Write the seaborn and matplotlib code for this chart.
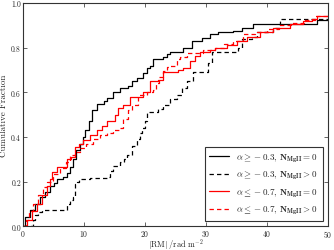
import matplotlib
matplotlib.use("Agg")
import matplotlib.pyplot as plt
import seaborn as sns

# step points (|RM|, cumulative fraction)
bs_x = [0, 0.3, 1.1, 2.0, 2.8, 3.6, 4.4, 5.0, 5.6, 6.6, 7.2, 7.7, 8.2, 8.7, 9.3, 9.8,
        10.2, 10.8, 11.3, 12.1, 13.2, 13.8, 14.8, 15.9, 17.2, 17.8, 18.7, 19.7, 20.3,
        20.8, 21.3, 23.0, 23.6, 24.1, 26.2, 27.7, 29.3, 30.7, 32.0, 34.4, 35.9, 37.7,
        48.2, 50]
bs_y = [0, 0.04, 0.075, 0.10, 0.13, 0.155, 0.18, 0.195, 0.21, 0.22, 0.24, 0.265, 0.30,
        0.34, 0.37, 0.40, 0.43, 0.47, 0.52, 0.55, 0.56, 0.575, 0.60, 0.62, 0.63, 0.65,
        0.665, 0.685, 0.71, 0.72, 0.75, 0.76, 0.77, 0.78, 0.80, 0.83, 0.845, 0.86, 0.87,
        0.875, 0.89, 0.905, 0.925, 0.925]

bd_x = [0, 1.1, 1.6, 2.0, 2.5, 3.1, 7.2, 7.7, 8.2, 8.5, 8.8, 9.2, 11.0, 13.8, 14.3,
        14.8, 15.9, 16.5, 17.0, 17.9, 18.7, 19.2, 19.5, 20.0, 20.3, 22.2, 23.0, 24.1,
        25.2, 26.1, 26.9, 27.9, 30.3, 31.0, 35.2, 35.9, 37.5, 38.4, 41.0, 42.1, 50]
bd_y = [0, 0, 0.03, 0.05, 0.065, 0.075, 0.10, 0.12, 0.13, 0.19, 0.20, 0.21, 0.215, 0.22,
        0.25, 0.27, 0.29, 0.30, 0.32, 0.36, 0.39, 0.42, 0.44, 0.47, 0.51, 0.525, 0.545,
        0.57, 0.59, 0.62, 0.65, 0.69, 0.73, 0.78, 0.80, 0.84, 0.85, 0.87, 0.89, 0.93, 0.93]

rs_x = [0, 0.7, 1.5, 2.3, 3.1, 3.9, 4.4, 4.8, 5.6, 7.2, 7.8, 8.5, 9.2, 9.8, 11.0, 12.1,
        13.0, 13.8, 15.1, 15.6, 16.4, 17.5, 19.7, 20.8, 22.1, 23.0, 25.4, 26.2, 27.4,
        28.2, 29.0, 30.7, 31.5, 33.4, 35.0, 36.7, 38.9, 41.0, 43.8, 45.9, 47.4, 48.2, 50]
rs_y = [0, 0.03, 0.07, 0.10, 0.14, 0.18, 0.21, 0.245, 0.265, 0.30, 0.31, 0.355, 0.37,
        0.385, 0.41, 0.43, 0.45, 0.47, 0.50, 0.53, 0.545, 0.58, 0.60, 0.65, 0.655, 0.69,
        0.70, 0.71, 0.74, 0.765, 0.78, 0.79, 0.80, 0.81, 0.83, 0.85, 0.87, 0.89, 0.905,
        0.92, 0.93, 0.94, 0.94]

rd_x = [0, 0.5, 1.0, 1.6, 2.5, 3.3, 3.9, 4.9, 6.0, 7.0, 7.7, 8.5, 9.3, 10.3, 11.5, 12.6,
        13.8, 14.8, 15.9, 16.4, 17.2, 17.9, 18.9, 20.3, 21.3, 21.8, 22.3, 23.0, 23.6,
        24.1, 25.2, 25.7, 26.9, 29.5, 31.5, 33.0, 34.5, 36.1, 38.0, 40.0, 42.0, 44.0,
        46.0, 47.8, 50]
rd_y = [0, 0.03, 0.07, 0.10, 0.14, 0.175, 0.20, 0.235, 0.26, 0.29, 0.32, 0.335, 0.35,
        0.37, 0.39, 0.41, 0.42, 0.43, 0.44, 0.48, 0.52, 0.545, 0.59, 0.60, 0.61, 0.64,
        0.67, 0.695, 0.715, 0.72, 0.75, 0.76, 0.775, 0.79, 0.80, 0.815, 0.83, 0.86, 0.87,
        0.885, 0.90, 0.91, 0.925, 0.94, 0.94]

labels = [r'$\alpha \geq -0.3$, $\mathbf{N}_{\mathbf{MgII}} = 0$',
          r'$\alpha \geq -0.3$, $\mathbf{N}_{\mathbf{MgII}} > 0$',
          r'$\alpha \leq -0.7$, $\mathbf{N}_{\mathbf{MgII}} = 0$',
          r'$\alpha \leq -0.7$, $\mathbf{N}_{\mathbf{MgII}} > 0$']

sns.set_style('ticks')
plt.rcParams['font.family'] = ['cmr10', 'DejaVu Serif']
plt.rcParams['mathtext.fontset'] = 'cm'
plt.rcParams['axes.formatter.use_mathtext'] = True
plt.rcParams['xtick.direction'] = 'in'
plt.rcParams['ytick.direction'] = 'in'

fig = plt.figure(figsize=(3.34, 2.51), dpi=100)
ax = fig.add_axes([0.069, 0.094, 0.913, 0.89])

dash = (0, (3.5, 2.5))
curves = [(bs_x, bs_y, 'k', '-'), (bd_x, bd_y, 'k', dash),
          (rs_x, rs_y, 'r', '-'), (rd_x, rd_y, 'r', dash)]
for (xs, ys, c, ls), lab in zip(curves, labels):
    sns.lineplot(x=xs, y=ys, ax=ax, color=c, linestyle=ls, lw=0.9,
                 drawstyle='steps-post', estimator=None, label=lab)

ax.set_xlim(0, 50)
ax.set_ylim(0, 1.0)
ax.set_xticks([0, 10, 20, 30, 40, 50])
ax.set_yticks([0.0, 0.2, 0.4, 0.6, 0.8, 1.0])
ax.set_yticklabels(['0.0', '0.2', '0.4', '0.6', '0.8', '1.0'])
ax.tick_params(labelsize=5.5, top=True, right=True, length=3, width=0.5, pad=1.5)
for s in ax.spines.values():
    s.set_linewidth(0.8)
    s.set_color('#333333')
ax.set_xlabel(r'$|\mathrm{RM}|\ /\mathrm{rad\ m}^{-2}$', fontsize=6, labelpad=-2.5)
ax.set_ylabel('Cumulative Fraction', fontsize=6.5, labelpad=2)

leg = ax.legend(loc='lower right', fontsize=6.5, fancybox=False, framealpha=1,
                edgecolor='#333333', handlelength=2.2, borderpad=0.5,
                labelspacing=0.6, borderaxespad=0.6)
leg.get_frame().set_linewidth(0.8)

fig.savefig('out.png', dpi=100)
